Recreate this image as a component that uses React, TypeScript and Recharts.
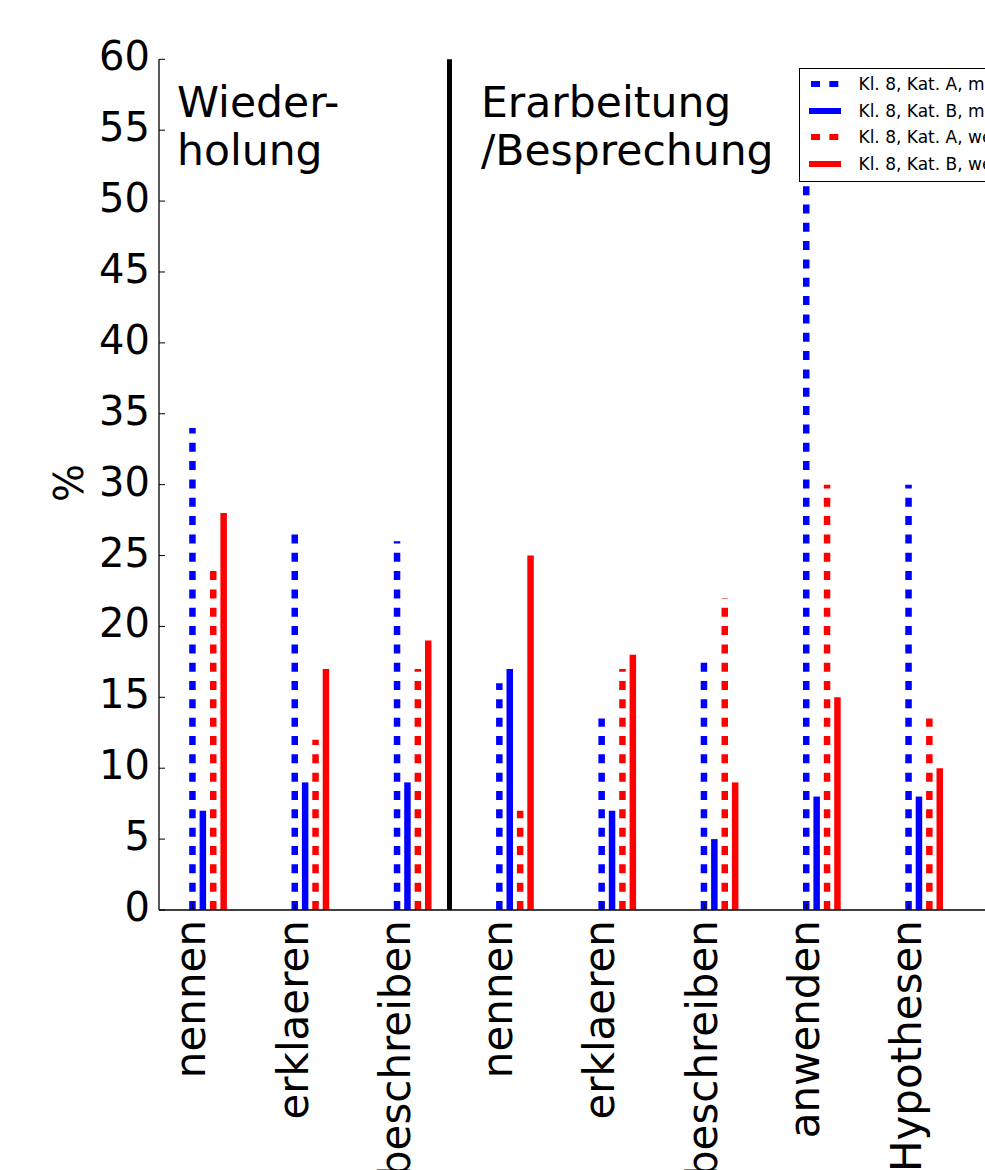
import { BarChart, Bar, XAxis, YAxis, ReferenceLine, Legend } from "recharts";

const CATEGORIES = [
  "nennen",
  "erklaeren",
  "beschreiben",
  "nennen",
  "erklaeren",
  "beschreiben",
  "anwenden",
  "Hypothesen",
];
const KAT_A_M = [34, 26.5, 26, 16, 13.5, 17.5, 55, 30];
const KAT_B_M = [7, 9, 9, 17, 7, 5, 8, 8];
const KAT_A_W = [24, 12, 17, 7, 17, 22, 30, 13.5];
const KAT_B_W = [28, 17, 19, 25, 18, 9, 15, 10];
const Y_TICKS = [0, 5, 10, 15, 20, 25, 30, 35, 40, 45, 50, 55, 60];
const GROUP_TICKS = [0, 1, 2, 3, 4, 5, 6, 7];
const SECTION_SPLIT = 2.5;

const SERIES = [
  { key: "aM", name: "Kl. 8, Kat. A, männlich", color: "#0000ff", dashed: true, values: KAT_A_M },
  { key: "bM", name: "Kl. 8, Kat. B, männlich", color: "#0000ff", dashed: false, values: KAT_B_M },
  { key: "aW", name: "Kl. 8, Kat. A, weiblich", color: "#ff0000", dashed: true, values: KAT_A_W },
  { key: "bW", name: "Kl. 8, Kat. B, weiblich", color: "#ff0000", dashed: false, values: KAT_B_W },
];

const data = CATEGORIES.map((cat, i) => {
  const row: Record<string, string | number> = { cat };
  SERIES.forEach((s) => (row[s.key] = s.values[i]));
  return row;
});

// geometry
const FONT = "DejaVu Sans, Verdana, sans-serif";
const CHART_W = 1030;
const CHART_H = 1170;
const PLOT_LEFT = 159;
const BAND = 102.3;
const BAR = 6.5;
const GAP = 3.9;
const TICK_OFF = 1.5 * (BAR + GAP); // ticks sit on the first bar of each group
const PAD_L = -1.8;
const PAD_R = CHART_W - PLOT_LEFT - PAD_L - BAND * CATEGORIES.length;
const NUM_LO = -(BAND / 2 - TICK_OFF) / BAND;
const NUM_HI = NUM_LO + CATEGORIES.length;

function VLine(props: any) {
  const { x, y, width, height, fill, dashed } = props;
  if (!height || height <= 0) return null;
  const cx = x + width / 2;
  return (
    <line
      x1={cx}
      y1={y + height}
      x2={cx}
      y2={y}
      stroke={fill}
      strokeWidth={BAR}
      strokeDasharray={dashed ? "9 9.33" : undefined}
    />
  );
}

function CatTick(props: any) {
  const { x, y, payload } = props;
  const tx = x - TICK_OFF;
  const lx = tx + 12.5;
  return (
    <g>
      <line x1={tx} y1={y - 10} x2={tx} y2={y - 16} stroke="#000" strokeWidth={1} />
      <text
        x={lx}
        y={y}
        transform={`rotate(-90 ${lx} ${y})`}
        textAnchor="end"
        fontSize={42}
        fontFamily={FONT}
        fill="#000"
      >
        {payload.value}
      </text>
    </g>
  );
}

function ValTick(props: any) {
  const { x, y, payload } = props;
  return (
    <g>
      <line x1={x + 9} y1={y} x2={x + 15} y2={y} stroke="#000" strokeWidth={1} />
      <text x={x} y={y + 11} textAnchor="end" fontSize={40} fontFamily={FONT} fill="#000">
        {payload.value}
      </text>
    </g>
  );
}

function LegendBox() {
  return (
    <div
      style={{
        width: 280,
        height: 114,
        boxSizing: "border-box",
        border: "1.5px solid #000",
        background: "#fff",
        padding: "1.5px 0 0 8.5px",
        fontFamily: FONT,
        fontSize: 17,
        color: "#000",
      }}
    >
      {SERIES.map((s) => (
        <div key={s.key} style={{ display: "flex", alignItems: "center", height: 26.7, whiteSpace: "nowrap" }}>
          <svg width={32} height={8} style={{ marginRight: 18, flex: "none" }}>
            <line
              x1={0}
              y1={4}
              x2={32}
              y2={4}
              stroke={s.color}
              strokeWidth={6}
              strokeDasharray={s.dashed ? "9 9.33" : undefined}
              strokeDashoffset={s.dashed ? -2 : 0}
            />
          </svg>
          <span>{s.name}</span>
        </div>
      ))}
    </div>
  );
}

export default function App() {
  return (
    <div
      style={{
        position: "fixed",
        top: 0,
        left: 0,
        width: 985,
        height: 1170,
        overflow: "hidden",
        background: "#fff",
      }}
    >
      <BarChart
        width={CHART_W}
        height={CHART_H}
        data={data}
        margin={{ top: 59.3, right: 0, left: 0, bottom: 0 }}
        barSize={BAR}
        barGap={GAP}
      >
        <XAxis
          dataKey="cat"
          height={260}
          padding={{ left: PAD_L, right: PAD_R }}
          axisLine={{ stroke: "#000", strokeWidth: 1.3 }}
          tickLine={false}
          tickSize={0}
          tickMargin={10}
          interval={0}
          tick={CatTick}
        />
        <XAxis
          xAxisId="num"
          type="number"
          orientation="top"
          height={0}
          domain={[NUM_LO, NUM_HI]}
          allowDataOverflow
          ticks={GROUP_TICKS}
          padding={{ left: PAD_L, right: PAD_R }}
          axisLine={{ stroke: "#000", strokeWidth: 1.3 }}
          tickLine={{ stroke: "#000" }}
          mirror
          tickSize={6}
          tick={() => <g />}
        />
        <YAxis
          width={PLOT_LEFT}
          domain={[0, 60]}
          ticks={Y_TICKS}
          allowDataOverflow
          axisLine={{ stroke: "#000", strokeWidth: 1.3 }}
          tickLine={false}
          tickSize={0}
          tickMargin={9}
          interval={0}
          tick={ValTick}
        />
        <ReferenceLine xAxisId="num" x={SECTION_SPLIT} stroke="#000" strokeWidth={5} />
        {SERIES.map((s) => (
          <Bar
            key={s.key}
            dataKey={s.key}
            name={s.name}
            fill={s.color}
            isAnimationActive={false}
            shape={(p: any) => <VLine {...p} dashed={s.dashed} />}
          />
        ))}
        <Legend
          layout="vertical"
          align="center"
          verticalAlign="middle"
          wrapperStyle={{ left: 799, top: 68, width: 280 }}
          content={() => <LegendBox />}
        />
      </BarChart>
      <svg
        width={985}
        height={1170}
        style={{ position: "absolute", top: 0, left: 0, pointerEvents: "none" }}
      >
        <g fontFamily={FONT} fontSize={42.5} fill="#000">
          <text x={177} y={117}>Wieder-</text>
          <text x={177} y={165}>holung</text>
          <text x={481} y={117}>Erarbeitung</text>
          <text x={481} y={165}>/Besprechung</text>
          <text x={83} y={483} textAnchor="middle" fontSize={40} transform="rotate(-90 83 483)">%</text>
        </g>
      </svg>
    </div>
  );
}
